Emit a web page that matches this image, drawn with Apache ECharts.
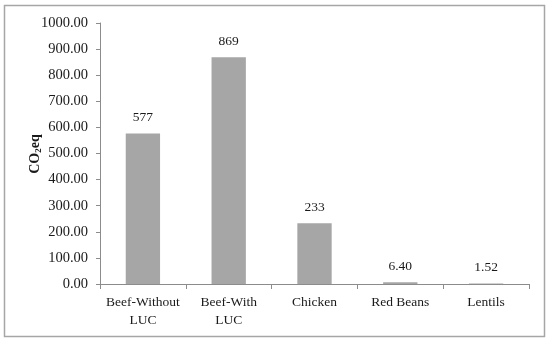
<!DOCTYPE html>
<html><head><meta charset="utf-8">
<script src="https://cdn.jsdelivr.net/npm/echarts@6/dist/echarts.min.js"></script>
<style>html,body{margin:0;padding:0;background:#fff}#c{width:550px;height:341px}</style>
</head><body><div id="c"></div>
<script>
const categories = ['Beef-Without\nLUC', 'Beef-With\nLUC', 'Chicken', 'Red Beans', 'Lentils'];
const values = [577, 869, 233, 6.40, 1.52];
const valueLabels = ['577', '869', '233', '6.40', '1.52'];
const yMin = 0, yMax = 1000, yStep = 100;
const yTitle = '{a|CO}{s|2}{a|eq}';

const FONT = 'Liberation Serif';
const chart = echarts.init(document.getElementById('c'));
chart.setOption({
  animation: false,
  textStyle: {fontFamily: FONT},
  graphic: [
    {type: 'rect', shape: {x: 4.5, y: 5.5, width: 540, height: 331},
      style: {fill: 'none', stroke: '#a6a6a6', lineWidth: 1.5}, silent: true},
    {type: 'text', x: 35, y: 154, rotation: Math.PI / 2, silent: true,
      style: {text: yTitle, align: 'center', verticalAlign: 'middle',
        rich: {
          a: {fontFamily: FONT, fontWeight: 'bold', fontSize: 14, fill: '#1a1a1a'},
          s: {fontFamily: FONT, fontWeight: 'bold', fontSize: 9, fill: '#1a1a1a', verticalAlign: 'bottom', padding: [8, 0, 0, 0]}
        }}}
  ],
  grid: {left: 100, right: 21, top: 23, bottom: 57},
  xAxis: {
    type: 'category', data: categories,
    axisLine: {lineStyle: {color: '#8c8c8c'}},
    axisTick: {show: true, length: 5, lineStyle: {color: '#8c8c8c'}},
    axisLabel: {color: '#1a1a1a', fontFamily: FONT, fontSize: 13.5, margin: 9, lineHeight: 18, interval: 0}
  },
  yAxis: {
    type: 'value', min: yMin, max: yMax, interval: yStep,
    splitLine: {show: false},
    axisLine: {show: true, lineStyle: {color: '#8c8c8c'}},
    axisTick: {show: true, length: 4, lineStyle: {color: '#8c8c8c'}},
    axisLabel: {color: '#1a1a1a', fontFamily: FONT, fontSize: 14.5, margin: 12,
      formatter: v => v.toFixed(2)}
  },
  series: [{
    type: 'bar', data: values, barWidth: '40%',
    itemStyle: {color: '#a6a6a6'},
    label: {show: true, position: 'top', distance: 9, color: '#1a1a1a', fontFamily: FONT, fontSize: 13.5,
      formatter: p => valueLabels[p.dataIndex]}
  }]
});
</script></body></html>
